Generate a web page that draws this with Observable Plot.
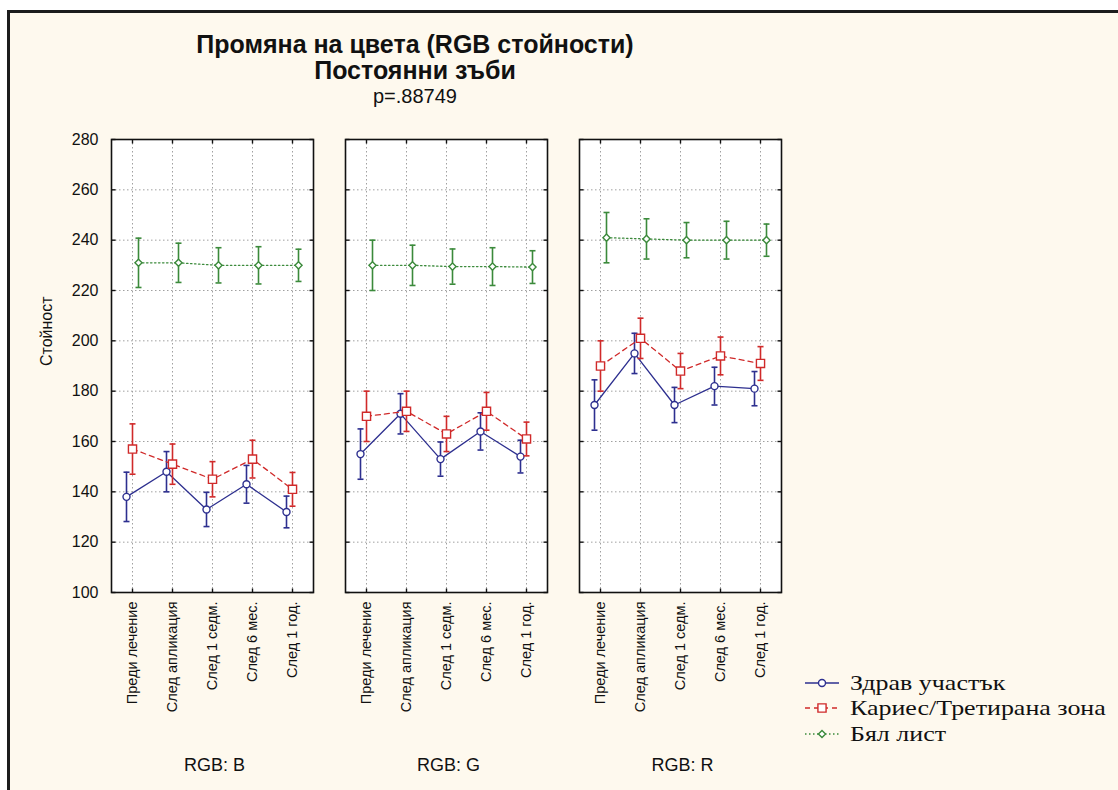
<!DOCTYPE html>
<html>
<head>
<meta charset="utf-8">
<script src="https://cdn.jsdelivr.net/npm/d3@7"></script>
<script src="https://cdn.jsdelivr.net/npm/@observablehq/plot@0.6"></script>
<style>
  html, body { margin: 0; padding: 0; background: #ffffff; }
  #page { position: relative; width: 1118px; height: 790px; overflow: hidden; font-family: "Liberation Sans", Arial, sans-serif; }
  #frame { position: absolute; left: 7px; top: 10px; width: 1111px; height: 780px; border-top: 3px solid #1c1c1c; border-left: 3px solid #1c1c1c; background: #fef9ee; box-sizing: border-box; }
  .t { position: absolute; left: 0; width: 830px; text-align: center; line-height: 1; color: #111; white-space: nowrap; }
  #chart { position: absolute; left: 0; top: 130px; }
  #legend { position: absolute; left: 803px; top: 0; font-family: "Liberation Serif", "Times New Roman", serif; font-size: 22px; color: #111; }
  .row { position: absolute; left: 0; display: flex; align-items: center; white-space: nowrap; height: 24px; }
  .row svg { margin-right: 9px; }
  .row span { display: inline-block; transform: scaleX(1.18); transform-origin: left center; }
</style>
</head>
<body>
<div id="page">
  <div id="frame"></div>
  <div class="t" id="title1" style="top:32px;font-size:25px;font-weight:bold;"></div>
  <div class="t" id="title2" style="top:58px;font-size:25px;font-weight:bold;"></div>
  <div class="t" id="title3" style="top:86px;font-size:20px;"></div>
  <div id="chart"></div>
  <div id="legend"></div>
</div>
<script>
// ---------- data ----------
const titleLines = ["Промяна на цвета (RGB стойности)", "Постоянни зъби", "p=.88749"];
const yLabel = "Стойност";
const timepoints = ["Преди лечение", "След апликация", "След 1 седм.", "След 6 мес.", "След 1 год."];
const channels = ["RGB: B", "RGB: G", "RGB: R"];
const seriesNames = ["Здрав участък", "Кариес/Третирана зона", "Бял лист"];
const yTicks = [100, 120, 140, 160, 180, 200, 220, 240, 260, 280];

// means (series x channel)
const healthyB = [138, 148, 133, 143, 132];
const healthyG = [155, 171, 153, 164, 154];
const healthyR = [174.5, 195, 174.5, 182, 181];
const cariesB = [157, 151, 145, 153, 141];
const cariesG = [170, 172, 163, 172, 161];
const cariesR = [190, 201, 188, 194, 191];
const whiteB = [231, 231, 230, 230, 230];
const whiteG = [230, 230, 229.5, 229.5, 229.3];
const whiteR = [241, 240.5, 240, 240, 240];

// error half-widths
const healthyErrB = [9.8, 8, 6.8, 7.5, 6.3];
const healthyErrG = [10, 8, 6.8, 7.4, 6.5];
const healthyErrR = [10, 8, 7, 7.5, 6.8];
const cariesErrB = [10, 8, 7, 7.5, 6.7];
const cariesErrG = [10, 8, 7, 7.5, 6.7];
const cariesErrR = [10, 8, 7, 7.5, 6.7];
const whiteErrB = [9.8, 7.8, 7, 7.4, 6.4];
const whiteErrG = [10, 8, 7, 7.5, 6.5];
const whiteErrR = [10, 8, 7, 7.5, 6.4];

const means = [[healthyB, healthyG, healthyR], [cariesB, cariesG, cariesR], [whiteB, whiteG, whiteR]];
const errs = [[healthyErrB, healthyErrG, healthyErrR], [cariesErrB, cariesErrG, cariesErrR], [whiteErrB, whiteErrG, whiteErrR]];

// ---------- styles ----------
const styles = [
  {color: "#2d2f8f", dash: null, symbol: "circle", r: 3.5, dx: -6},
  {color: "#d02a2a", dash: "5,4", symbol: "square", r: 4.6, dx: 0},
  {color: "#3b8a3b", dash: "1.5,2.5", symbol: "diamond2", r: 3.2, dx: 6}
];
// small line symbols: error-bar caps and inward frame ticks
const capSymbol = {draw(c) { c.moveTo(-3, 0); c.lineTo(3, 0); }};
const tickRight = {draw(c) { c.moveTo(0, 0); c.lineTo(4, 0); }};
const tickLeft = {draw(c) { c.moveTo(0, 0); c.lineTo(-4, 0); }};
const tickDown = {draw(c) { c.moveTo(0, 0); c.lineTo(0, 4); }};
const tickUp = {draw(c) { c.moveTo(0, 0); c.lineTo(0, -4); }};

const rows = [];
seriesNames.forEach((s, si) => channels.forEach((c, ci) => timepoints.forEach((t, ti) => {
  const m = means[si][ci][ti], e = errs[si][ci][ti];
  rows.push({series: s, si, channel: c, time: t, mean: m, lo: m - e, hi: m + e});
})));

document.getElementById("title1").textContent = titleLines[0];
document.getElementById("title2").textContent = titleLines[1];
document.getElementById("title3").textContent = titleLines[2];

const seriesMarks = [];
styles.forEach((st, si) => {
  const d = rows.filter(r => r.si === si);
  const common = {fx: "channel", x: "time", stroke: st.color, dx: st.dx};
  const lineOpts = {...common, y: "mean", strokeWidth: 1.3};
  if (st.dash) lineOpts.strokeDasharray = st.dash;
  seriesMarks.push(
    Plot.line(d, lineOpts),
    Plot.ruleX(d, {...common, y1: "lo", y2: "hi", strokeWidth: 1.6}),
    Plot.dot(d, {...common, y: "hi", symbol: capSymbol, fill: "none", strokeWidth: 1.6}),
    Plot.dot(d, {...common, y: "lo", symbol: capSymbol, fill: "none", strokeWidth: 1.6}),
    Plot.dot(d, {...common, y: "mean", symbol: st.symbol, r: st.r, fill: "white", strokeWidth: 1.4})
  );
});

const tickStyle = {stroke: "#111", fill: "none", strokeWidth: 1.4};
const chart = Plot.plot({
  width: 1118,
  height: 660,
  marginLeft: 110,
  marginRight: 335,
  marginTop: 9,
  marginBottom: 198,
  style: {background: "transparent", fontFamily: "'Liberation Sans', Arial, sans-serif", fontSize: "15px", color: "#111"},
  fx: {domain: channels, paddingInner: 0.136, paddingOuter: 0, label: null, axis: null},
  x: {type: "point", domain: timepoints, padding: 0.5, label: null},
  y: {domain: [100, 280], label: null},
  marks: [
    Plot.frame({fill: "white", stroke: null}),
    Plot.gridY(yTicks, {stroke: "#a0a0a0", strokeOpacity: 1, strokeDasharray: "1.5,2.5"}),
    Plot.gridX(timepoints, {stroke: "#a0a0a0", strokeOpacity: 1, strokeDasharray: "1.5,2.5"}),
    // inward ticks on all four sides of every panel
    Plot.dot(yTicks, {y: d => d, frameAnchor: "left", symbol: tickRight, ...tickStyle}),
    Plot.dot(yTicks, {y: d => d, frameAnchor: "right", symbol: tickLeft, ...tickStyle}),
    Plot.dot(timepoints, {x: d => d, frameAnchor: "top", symbol: tickDown, ...tickStyle}),
    Plot.dot(timepoints, {x: d => d, frameAnchor: "bottom", symbol: tickUp, ...tickStyle}),
    // labels
    Plot.axisY(yTicks, {anchor: "left", tickSize: 0, tickPadding: 13, fontSize: 16, stroke: null, label: null}),
    Plot.axisX(timepoints, {anchor: "bottom", tickSize: 0, tickPadding: 9, tickRotate: -90, fontSize: 14.5, stroke: null, facetAnchor: null, label: null}),
    Plot.text(channels, {fx: d => d, text: d => d, frameAnchor: "bottom", dy: 178, dx: 2, fontSize: 18, fill: "#111"}),
    Plot.text([yLabel], {fx: () => channels[0], text: d => d, frameAnchor: "left", dx: -65, rotate: -90, fontSize: 16, fill: "#111"}),
    ...seriesMarks,
    Plot.frame({stroke: "#111", strokeWidth: 1.6})
  ]
});
document.getElementById("chart").appendChild(chart);

// ---------- legend ----------
const legend = document.getElementById("legend");
const rowY = [671, 696, 722];
seriesNames.forEach((s, si) => {
  const st = styles[si];
  const row = document.createElement("div");
  row.className = "row";
  row.style.top = rowY[si] + "px";
  const ns = "http://www.w3.org/2000/svg";
  const svg = document.createElementNS(ns, "svg");
  svg.setAttribute("width", 38); svg.setAttribute("height", 20);
  const line = document.createElementNS(ns, "line");
  line.setAttribute("x1", 2); line.setAttribute("x2", 36); line.setAttribute("y1", 10); line.setAttribute("y2", 10);
  line.setAttribute("stroke", st.color); line.setAttribute("stroke-width", 1.3);
  if (st.dash) line.setAttribute("stroke-dasharray", st.dash);
  svg.appendChild(line);
  const p = document.createElementNS(ns, "path");
  const sym = st.symbol === "circle" ? d3.symbolCircle : st.symbol === "square" ? d3.symbolSquare : d3.symbolDiamond2;
  p.setAttribute("d", d3.symbol(sym, Math.PI * st.r * st.r)());
  p.setAttribute("transform", "translate(19,10)");
  p.setAttribute("fill", "white"); p.setAttribute("stroke", st.color); p.setAttribute("stroke-width", 1.4);
  svg.appendChild(p);
  row.appendChild(svg);
  const span = document.createElement("span");
  span.textContent = s;
  row.appendChild(span);
  legend.appendChild(row);
});
</script>
</body>
</html>
